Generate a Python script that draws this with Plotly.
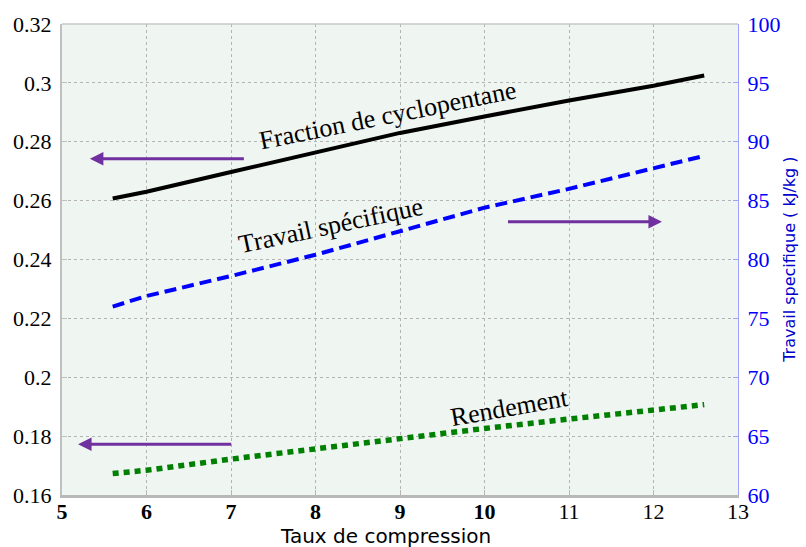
import plotly.graph_objects as go

# Compression ratio (x) and the three computed curves
taux = [5.6, 6, 7, 8, 9, 10, 11, 12, 12.6]
fraction_cyclopentane = [0.2607, 0.2630, 0.2697, 0.2765, 0.2830, 0.2886, 0.2940, 0.2990, 0.3025]
travail_specifique = [76.0, 76.9, 78.6, 80.4, 82.4, 84.4, 86.0, 87.8, 88.8]
rendement = [0.1673, 0.1684, 0.1722, 0.1758, 0.1792, 0.1826, 0.1858, 0.1888, 0.1907]

# Axis ticks
x_ticks = [5, 6, 7, 8, 9, 10, 11, 12, 13]
x_ticktext = ["<b>5</b>", "<b>6</b>", "<b>7</b>", "<b>8</b>", "<b>9</b>", "<b>10</b>", "11", "12", "13"]
left_ticks = [0.16, 0.18, 0.2, 0.22, 0.24, 0.26, 0.28, 0.3, 0.32]
left_ticktext = ["0.16", "0.18", "0.2", "0.22", "0.24", "0.26", "0.28", "0.3", "0.32"]
right_ticks = [60, 65, 70, 75, 80, 85, 90, 95, 100]

# Curve labels: (text, x, y on left axis, angle)
curve_labels = [
    ("Fraction de cyclopentane", 8.85, 0.2890, -11.4),
    ("Travail spécifique", 8.18, 0.2515, -12.0),
    ("Rendement", 10.30, 0.1897, -10.0),
]
# Axis-pointing arrows: (tail x, tip x, y on left axis)
axis_arrows = [
    (7.17, 5.33, 0.2742),
    (10.26, 12.10, 0.2528),
    (7.02, 5.19, 0.1772),
]

purple = "#7030A0"
serif = "Liberation Serif"

fig = go.Figure()
fig.add_trace(go.Scatter(x=taux, y=fraction_cyclopentane, mode="lines",
                         line=dict(color="black", width=4), yaxis="y"))
fig.add_trace(go.Scatter(x=taux, y=travail_specifique, mode="lines",
                         line=dict(color="#0000ff", width=4, dash="12px,6px"), yaxis="y2"))
fig.add_trace(go.Scatter(x=taux, y=rendement, mode="lines",
                         line=dict(color="#008000", width=5.5, dash="6px,5px"), yaxis="y"))

annotations = []
for text, x, y, ang in curve_labels:
    annotations.append(dict(text=text, x=x, y=y, xref="x", yref="y", showarrow=False,
                            textangle=ang, font=dict(family=serif, size=26, color="black")))
for tail, tip, y in axis_arrows:
    annotations.append(dict(text="", x=tip, y=y, ax=tail, ay=y, xref="x", yref="y",
                            axref="x", ayref="y", showarrow=True, arrowhead=2,
                            arrowwidth=3, arrowsize=0.9, arrowcolor=purple, standoff=0))
annotations.append(dict(text="Taux de compression", x=0.478, y=0, xref="paper", yref="paper",
                        yshift=-41, yanchor="middle", showarrow=False,
                        font=dict(family="DejaVu Sans", size=20, color="black")))
annotations.append(dict(text="Travail specifique ( kJ/kg )", x=1.093, y=0.5, xref="paper",
                        yref="paper", textangle=-90, showarrow=False,
                        font=dict(family="DejaVu Sans", size=16, color="#0000cc")))
fig.update_layout(annotations=annotations)

fig.update_layout(
    width=806, height=547,
    margin=dict(l=62, r=68, t=21, b=52),
    paper_bgcolor="white",
    plot_bgcolor="#eff5f1",
    showlegend=False,
    xaxis=dict(range=[5, 13], tickvals=x_ticks, ticktext=x_ticktext,
               showgrid=True, gridcolor="#b4b4b4", griddash="dot", gridwidth=1,
               zeroline=False, showline=True, linecolor="#b8b8b8", linewidth=3,
               ticks="inside", ticklen=5, tickcolor="#b8b8b8", ticklabelstandoff=-5,
               tickfont=dict(family=serif, size=22, color="black")),
    yaxis=dict(range=[0.16, 0.32], tickvals=left_ticks, ticktext=left_ticktext,
               showgrid=True, gridcolor="#b4b4b4", griddash="dot", gridwidth=1,
               zeroline=False, showline=True, linecolor="#c0c0c0", linewidth=2,
               ticks="inside", ticklen=5, tickcolor="#c0c0c0", ticklabelstandoff=4,
               tickfont=dict(family=serif, size=22, color="black")),
    yaxis2=dict(range=[60, 100], tickvals=right_ticks, overlaying="y", side="right",
                showgrid=False, zeroline=False, showline=True, linecolor="#a0a0ff",
                linewidth=1, ticks="inside", ticklen=5, tickcolor="#a0a0ff",
                ticklabelstandoff=4,
                tickfont=dict(family=serif, size=22, color="#0000ff")),
)
# top border of the plotting area
fig.add_shape(type="line", xref="paper", yref="paper", x0=0, x1=1, y0=1, y1=1,
              line=dict(color="#c8c8c8", width=1.5))

fig.write_html("out.html")
